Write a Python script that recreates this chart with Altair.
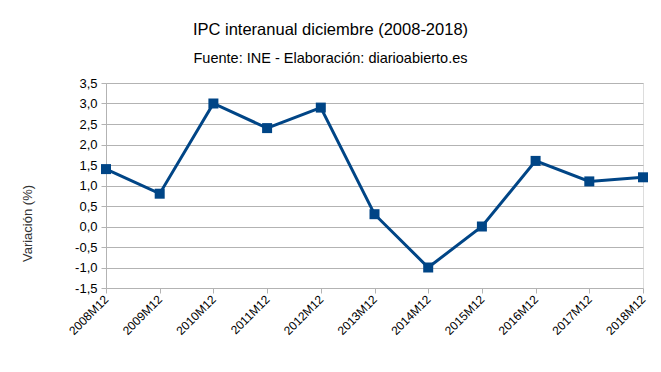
import altair as alt
import pandas as pd

periods = ["2008M12", "2009M12", "2010M12", "2011M12", "2012M12", "2013M12",
           "2014M12", "2015M12", "2016M12", "2017M12", "2018M12"]
ipc = [1.4, 0.8, 3.0, 2.4, 2.9, 0.3, -1.0, 0.0, 1.6, 1.1, 1.2]
y_ticks = [-1.5, -1.0, -0.5, 0.0, 0.5, 1.0, 1.5, 2.0, 2.5, 3.0, 3.5]

df = pd.DataFrame({"periodo": periods, "ipc": ipc})

FONT = "Liberation Sans"
COLOR = "#004586"
GRID = "#b3b3b3"

x = alt.X("periodo:N", sort=periods, title=None,
          scale=alt.Scale(type="point", padding=0),
          axis=alt.Axis(labelAngle=-45, labelAlign="right", labelBaseline="middle",
                        labelFontSize=12, labelFont=FONT, labelColor="#000000",
                        labelPadding=4, tickColor=GRID, tickSize=5,
                        domain=False, grid=False))
y = alt.Y("ipc:Q", title="Variación (%)",
          scale=alt.Scale(domain=[-1.5, 3.5], nice=False, zero=False),
          axis=alt.Axis(values=y_ticks,
                        labelExpr="replace(replace(format(datum.value, '.1f'), '.', ','), '\u2212', '-')",
                        labelFontSize=13, labelFont=FONT, labelColor="#000000",
                        labelPadding=4, tickColor=GRID, tickSize=5,
                        domainColor=GRID, gridColor=GRID,
                        titleFont=FONT, titleFontSize=13, titleFontWeight="normal",
                        titleColor="#333333", titleAngle=-90,
                        titleX=-79, titleY=140, titleAlign="center",
                        titleBaseline="middle"))

line = alt.Chart(df).mark_line(color=COLOR, strokeWidth=3).encode(x=x, y=y)
pts = alt.Chart(df).mark_point(shape="square", filled=True, size=100,
                               color=COLOR, opacity=1).encode(x=x, y=y)

chart = (line + pts).properties(
    width=537, height=205,
    autosize=alt.AutoSizeParams(type="none"),
    padding={"left": 98, "top": 75, "right": 10, "bottom": 76},
    title=alt.TitleParams(
        text="IPC interanual diciembre (2008-2018)",
        subtitle="Fuente: INE - Elaboración: diarioabierto.es",
        anchor="middle", frame="group", dx=-44, offset=12,
        font=FONT, fontSize=16.5, fontWeight="normal", color="#000000",
        subtitleFont=FONT, subtitleFontSize=14.5, subtitleColor="#000000",
        subtitlePadding=13,
    ),
).configure_view(stroke=GRID, strokeWidth=1).configure(background="white")

chart.save("out.html", embed_options={"renderer": "svg", "actions": False})
